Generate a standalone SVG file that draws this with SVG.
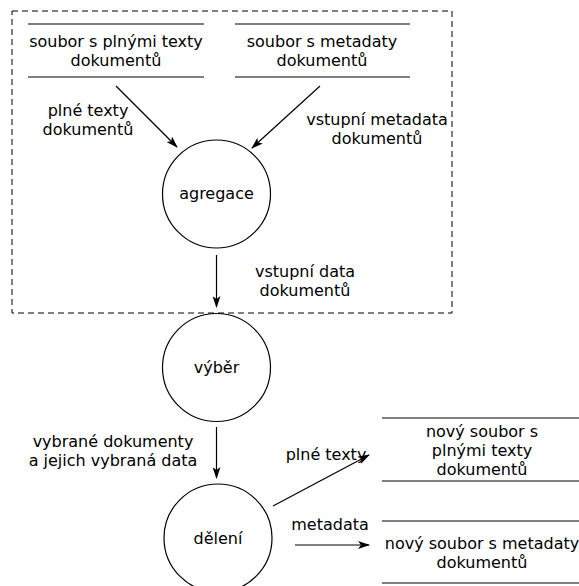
<svg xmlns="http://www.w3.org/2000/svg" width="579" height="586" viewBox="0 0 579 586">
  <style>
    text { font-family: "DejaVu Sans", "Liberation Sans", sans-serif; font-size: 16px; fill: #000; text-anchor: middle; }
    .proc { fill: #fff; stroke: #000; stroke-width: 1.2; }
    .store { stroke: #555; stroke-width: 1.5; }
    .flow { stroke: #000; stroke-width: 1.2; fill: none; marker-end: url(#arrow); }
    .boundary { fill: none; stroke: #000; stroke-width: 1; stroke-dasharray: 6 4; }
  </style>
  <defs>
    <marker id="arrow" viewBox="0 0 12 8" refX="11" refY="4" markerWidth="12" markerHeight="8" markerUnits="userSpaceOnUse" orient="auto">
      <path d="M0,0 L12,4 L0,8 L3,4 Z" fill="#000"/>
    </marker>
  </defs>

  <rect class="boundary" x="12" y="11" width="440" height="302"/>

  <g id="store-fulltext">
    <line class="store" x1="28" y1="24" x2="204" y2="24"/>
    <line class="store" x1="28" y1="77" x2="204" y2="77"/>
    <text x="116" y="47">soubor s plnými texty</text>
    <text x="116" y="66">dokumentů</text>
  </g>

  <g id="store-metadata">
    <line class="store" x1="235" y1="24" x2="410" y2="24"/>
    <line class="store" x1="235" y1="77" x2="410" y2="77"/>
    <text x="322" y="47">soubor s metadaty</text>
    <text x="322" y="66">dokumentů</text>
  </g>

  <g id="proc-agregace">
    <circle class="proc" cx="216.5" cy="194" r="54"/>
    <text x="216.5" y="199">agregace</text>
  </g>

  <g id="proc-vyber">
    <circle class="proc" cx="216.5" cy="367.5" r="54"/>
    <text x="216.5" y="373">výběr</text>
  </g>

  <g id="proc-deleni">
    <circle class="proc" cx="218" cy="538" r="54"/>
    <text x="218" y="544">dělení</text>
  </g>

  <g id="store-new-fulltext">
    <line class="store" x1="382" y1="418" x2="579" y2="418"/>
    <line class="store" x1="382" y1="481" x2="579" y2="481"/>
    <text x="482" y="437">nový soubor s</text>
    <text x="482" y="456">plnými texty</text>
    <text x="482" y="475">dokumentů</text>
  </g>

  <g id="store-new-metadata">
    <line class="store" x1="382" y1="521" x2="579" y2="521"/>
    <line class="store" x1="382" y1="583" x2="579" y2="583"/>
    <text x="482" y="549">nový soubor s metadaty</text>
    <text x="482" y="568">dokumentů</text>
  </g>

  <g id="connectors">
    <line class="flow" x1="116" y1="86" x2="177" y2="147"/>
    <line class="flow" x1="320" y1="86" x2="252" y2="148"/>
    <line class="flow" x1="216.5" y1="255" x2="216.5" y2="307"/>
    <line class="flow" x1="216.5" y1="427" x2="216.5" y2="478"/>
    <line class="flow" x1="273" y1="506" x2="369" y2="455"/>
    <line class="flow" x1="295" y1="545" x2="369" y2="545"/>
  </g>

  <g id="labels">
    <text x="88" y="116">plné texty</text>
    <text x="88" y="135">dokumentů</text>
    <text x="377" y="125">vstupní metadata</text>
    <text x="377" y="144">dokumentů</text>
    <text x="305" y="277">vstupní data</text>
    <text x="305" y="296">dokumentů</text>
    <text x="113" y="447">vybrané dokumenty</text>
    <text x="113" y="466">a jejich vybraná data</text>
    <text x="326" y="460">plné texty</text>
    <text x="330" y="530">metadata</text>
  </g>
</svg>
